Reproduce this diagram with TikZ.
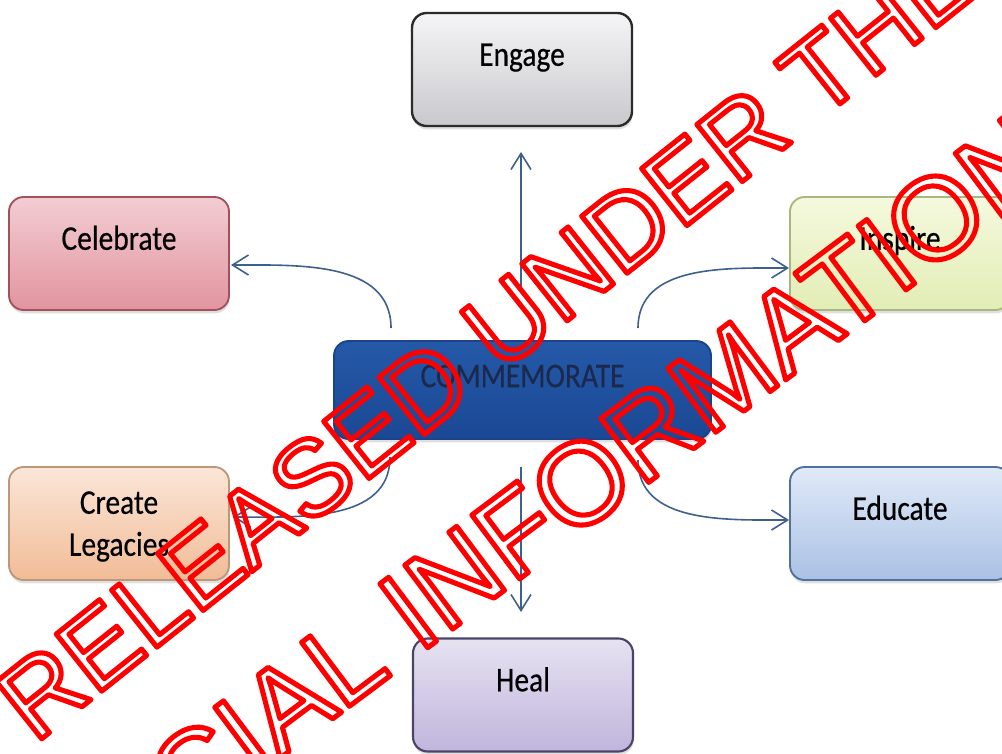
\documentclass[tikz,border=0pt]{standalone}
\usepackage{fontspec}
\setmainfont{Carlito}[FakeStretch=0.85, FakeBold=0.4]
\newfontfamily\stampfont{Liberation Sans}
\usetikzlibrary{arrows.meta,shadows}

\definecolor{linkblue}{HTML}{3F5F8F}
\definecolor{stampred}{HTML}{FF0000}
\definecolor{commtext}{HTML}{1B2A4C}
\definecolor{commtop}{HTML}{2459A8}
\definecolor{commbot}{HTML}{1B4894}
\definecolor{commline}{HTML}{1C428A}
\definecolor{engtop}{HTML}{F5F5F7}
\definecolor{engbot}{HTML}{C9C9CD}
\definecolor{engline}{HTML}{2B2B2B}
\definecolor{celtop}{HTML}{F3CDD3}
\definecolor{celbot}{HTML}{E2949F}
\definecolor{celline}{HTML}{A2515B}
\definecolor{instop}{HTML}{F5F9DE}
\definecolor{insbot}{HTML}{E2EDB5}
\definecolor{insline}{HTML}{A9B77E}
\definecolor{legtop}{HTML}{FBE6D8}
\definecolor{legbot}{HTML}{F1BC97}
\definecolor{legline}{HTML}{BC9778}
\definecolor{edutop}{HTML}{E0EAF8}
\definecolor{edubot}{HTML}{AAC1E4}
\definecolor{eduline}{HTML}{52709C}
\definecolor{healtop}{HTML}{E6E2F1}
\definecolor{healbot}{HTML}{C0B5DC}
\definecolor{healline}{HTML}{4B4468}

% outline only letters for the stamp
\newcommand\stamptext[1]{\special{pdf:literal direct 1 Tr 3.8 w 1 j}#1\special{pdf:literal direct 0 Tr}}

\begin{document}
\begin{tikzpicture}[x=0.75pt, y=-0.75pt,
    box/.style={draw, rounded corners=11pt, line width=1.4pt, minimum width=165pt, minimum height=84.75pt,
        font=\fontsize{26pt}{31.5pt}\selectfont, text height=17pt, text depth=22.6pt,
        drop shadow={shadow xshift=0.5pt, shadow yshift=-2.5pt, opacity=0.25, fill=gray}},
    twoline/.style={align=center, text height=, text depth=0pt},
    link/.style={draw=linkblue, line width=1.2pt, -{Straight Barb[length=12pt, width=15pt, line width=1.2pt]}},
    stamp/.style={inner sep=0pt, text=stampred}]

    \useasboundingbox (0,0) rectangle (1002,753);
    \clip (0,0) rectangle (1002,753);

    \node[box, minimum width=282.75pt, minimum height=73.5pt, text depth=21.2pt,
        top color=commtop, bottom color=commbot, draw=commline, text=commtext] (comm) at (522.5,390) {COMMEMORATE};
    \node[box, top color=engtop, bottom color=engbot, draw=engline, line width=1.8pt] (engage) at (522,69.5) {Engage};
    \node[box, top color=celtop, bottom color=celbot, draw=celline] (celebrate) at (119,253.5) {Celebrate};
    \node[box, top color=instop, bottom color=insbot, draw=insline] (inspire) at (900,253.5) {Inspire};
    \node[box, twoline, top color=legtop, bottom color=legbot, draw=legline] (legacies) at (119,523.5) {Create\\Legacies};
    \node[box, top color=edutop, bottom color=edubot, draw=eduline] (educate) at (900,523.5) {Educate};
    \node[box, top color=healtop, bottom color=healbot, draw=healline, line width=1.6pt] (heal) at (523,695) {Heal};

    \coordinate (engfoot) at (521,292);
    \coordinate (engtip) at (521,152);
    \coordinate (healfoot) at (521,467);
    \coordinate (healtip) at (521,612);
    \coordinate (celfoot) at (391,328);
    \coordinate (celtip) at (231,265);
    \coordinate (insfoot) at (638,328);
    \coordinate (instip) at (789,268);
    \coordinate (legfoot) at (390,457);
    \coordinate (legtip) at (233,517);
    \coordinate (edufoot) at (638,460);
    \coordinate (edutip) at (789,520);

    \draw[link] (engfoot) -- (engtip);
    \draw[link] (healfoot) -- (healtip);
    \draw[link] (celfoot) to[out=90, in=0] (celtip);
    \draw[link] (insfoot) to[out=90, in=180] (instip);
    \draw[link] (legfoot) to[out=-90, in=0] (legtip);
    \draw[link] (edufoot) to[out=-90, in=180] (edutip);

    % stamp over the whole sheet
    \node[stamp, rotate=38.5, font=\stampfont\fontsize{79.5pt}{80pt}\selectfont] (stampa) at (487,338) {\stamptext{RELEASED UNDER THE}};
    \node[stamp, rotate=36.8, font=\stampfont\fontsize{87pt}{88pt}\selectfont] (stampb) at (495,547.5) {\stamptext{OFFICIAL INFORMATION}};
\end{tikzpicture}
\end{document}
